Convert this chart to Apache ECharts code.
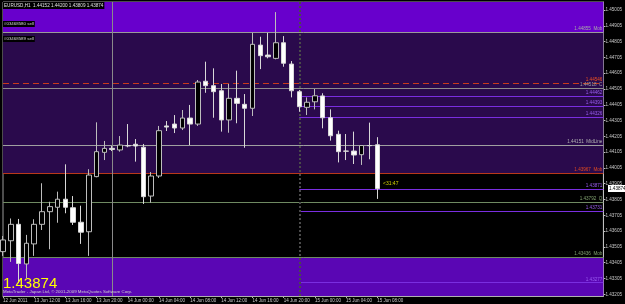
<!DOCTYPE html>
<html>
<head>
<meta charset="utf-8">
<script src="https://cdn.jsdelivr.net/npm/echarts@6/dist/echarts.min.js"></script>
<style>
html, body { margin: 0; padding: 0; background: #000; }
#chart { width: 625px; height: 304px; }
</style>
</head>
<body>
<div id="chart"></div>
<script>
// EURUSD,H1 bars, one per hour: [open, close, low, high]
var bars = [
    [1.43475, 1.43549, 1.43448, 1.43574],
    [1.43544, 1.43648, 1.43410, 1.43685],
    [1.43648, 1.43400, 1.43277, 1.43682],
    [1.43397, 1.43528, 1.43308, 1.43581],
    [1.43524, 1.43648, 1.43448, 1.43680],
    [1.43648, 1.43728, 1.43612, 1.43908],
    [1.43728, 1.43760, 1.43490, 1.43791],
    [1.43756, 1.43807, 1.43658, 1.43855],
    [1.43807, 1.43756, 1.43718, 1.44028],
    [1.43753, 1.43661, 1.43644, 1.43827],
    [1.43661, 1.43598, 1.43524, 1.43766],
    [1.43601, 1.43960, 1.43448, 1.43997],
    [1.43950, 1.44108, 1.43946, 1.44294],
    [1.44104, 1.44129, 1.44055, 1.44176],
    [1.44129, 1.44122, 1.44112, 1.44144],
    [1.44119, 1.44150, 1.44108, 1.44207],
    [1.44146, 1.44145, 1.44136, 1.44283],
    [1.44155, 1.44144, 1.44045, 1.44188],
    [1.44136, 1.43823, 1.43777, 1.44157],
    [1.43827, 1.43954, 1.43785, 1.43979],
    [1.43954, 1.44241, 1.43941, 1.44271],
    [1.44271, 1.44264, 1.44239, 1.44302],
    [1.44283, 1.44258, 1.44226, 1.44340],
    [1.44258, 1.44321, 1.44245, 1.44372],
    [1.44321, 1.44283, 1.44150, 1.44404],
    [1.44283, 1.44549, 1.44271, 1.44562],
    [1.44554, 1.44526, 1.44481, 1.44678],
    [1.44526, 1.44488, 1.44323, 1.44636],
    [1.44494, 1.44309, 1.44235, 1.44537],
    [1.44309, 1.44446, 1.44228, 1.44537],
    [1.44446, 1.44414, 1.44288, 1.44621],
    [1.44408, 1.44383, 1.44133, 1.44473],
    [1.44383, 1.44788, 1.44334, 1.44861],
    [1.44783, 1.44716, 1.44631, 1.44836],
    [1.44720, 1.44709, 1.44699, 1.44861],
    [1.44699, 1.44798, 1.44693, 1.44992],
    [1.44798, 1.44668, 1.44646, 1.44840],
    [1.44663, 1.44494, 1.44452, 1.44682],
    [1.44488, 1.44393, 1.44361, 1.44499],
    [1.44389, 1.44421, 1.44340, 1.44452],
    [1.44424, 1.44462, 1.44376, 1.44505],
    [1.44461, 1.44323, 1.44256, 1.44478],
    [1.44323, 1.44209, 1.44178, 1.44376],
    [1.44218, 1.44108, 1.44040, 1.44241],
    [1.44112, 1.44111, 1.44055, 1.44220],
    [1.44112, 1.44087, 1.44030, 1.44235],
    [1.44089, 1.44147, 1.44024, 1.44150],
    [1.44147, 1.44146, 1.44060, 1.44292],
    [1.44152, 1.43874, 1.43809, 1.44200]
];
var slotCount = 78;   // bars plus the empty space on the right
var timeLabels = ["12 Jun 2011", "13 Jun 12:00", "13 Jun 16:00", "13 Jun 20:00", "14 Jun 00:00",
    "14 Jun 04:00", "14 Jun 08:00", "14 Jun 12:00", "14 Jun 16:00", "14 Jun 20:00",
    "15 Jun 00:00", "15 Jun 04:00", "15 Jun 08:00"];
var priceTicks = [1.43205, 1.43305, 1.43405, 1.43505, 1.43605, 1.43705, 1.43805, 1.43905, 1.44005,
    1.44105, 1.44205, 1.44305, 1.44405, 1.44505, 1.44605, 1.44705, 1.44805, 1.44905, 1.45005];
var priceMin = 1.43194, priceMax = 1.45056;

// zones (rectangles)
var upperZone = [1.44864, 1.45056];
var middleZone = [1.43971, 1.44864];
var lowerZone = [1.43194, 1.43439];

// horizontal lines over the whole chart
var fullLevels = [1.44864, 1.44541, 1.44509, 1.44146, 1.43971, 1.43787, 1.43439];
var fullTexts = ["1.44855  Mob", "1.44546", "1.44518  C", "1.44151  MidLine", "1.43967  Mob", "1.43792  Q", "1.43436  Mob"];
// lines drawn from the start of 15 Jun
var shortLevels = [1.44462, 1.44393, 1.44326, 1.43872, 1.43732, 1.43278];
var shortTexts = ["1.44462", "1.44393", "1.44326", "1.43871", "1.43731", "1.43277"];
var vLineSlots = [14, 38];

var lastPrice = "1.43874";
var header = "EURUSD,H1  1.44152 1.44200 1.43809 1.43874";

var FONT = "Liberation Sans";
var cats = [];
for (var i = 0; i < slotCount; i++) cats.push(String(i));
var lastSlot = slotCount - 1;
var startSlot = 38;

var fullColors = ['#9a9a9a', '#c83a1c', '#8c8c8c', '#a0a0a0', '#b8381a', '#6f8a62', '#6f8a62'];
var fullLabelColors = ['#a8a8a8', '#f05020', '#a0a0a0', '#b0b0b0', '#e04a20', '#80a070', '#80a070'];
var purple = '#7a2ee0';

var hLines = [];
fullLevels.forEach(function (p, i) {
    hLines.push([
        {coord: [0, p], lineStyle: {color: fullColors[i], width: 1, type: i === 1 ? [6, 4] : 'solid'},
            label: {show: true, formatter: fullTexts[i], color: fullLabelColors[i]}},
        {coord: [lastSlot, p]}
    ]);
});
shortLevels.forEach(function (p, i) {
    hLines.push([
        {coord: [startSlot, p], lineStyle: {color: purple, width: 1, type: 'solid'},
            label: {show: true, formatter: shortTexts[i], color: '#9a5cf0'}},
        {coord: [lastSlot, p]}
    ]);
});
vLineSlots.forEach(function (s, i) {
    hLines.push([
        {coord: [s, priceMin], label: {show: false},
            lineStyle: i === 0 ? {color: '#8a8a8a', width: 1, type: 'solid'} : {color: '#4a4a4a', width: 2, type: [2, 2]}},
        {coord: [s, priceMax]}
    ]);
});

function zone(z, color) {
    return [{coord: [0, z[0]], itemStyle: {color: color}}, {coord: [lastSlot, z[1]]}];
}

var chart = echarts.init(document.getElementById('chart'), null, {renderer: 'canvas'});
chart.setOption({
    backgroundColor: '#000000',
    animation: false,
    textStyle: {fontFamily: FONT},
    grid: {left: 2, right: 18, top: 2, bottom: 8, show: true, borderColor: '#9a9a9a', borderWidth: 1},
    xAxis: {
        type: 'category',
        data: cats,
        boundaryGap: false,
        axisLine: {lineStyle: {color: '#b0b0b0'}},
        axisTick: {
            length: 2,
            lineStyle: {color: '#b0b0b0'},
            interval: function (idx) { return idx % 4 === 0 && idx / 4 < timeLabels.length; }
        },
        axisLabel: {
            interval: function (idx) { return idx % 4 === 0 && idx / 4 < timeLabels.length; },
            formatter: function (v, idx) { return timeLabels[idx / 4] || ''; },
            align: 'left',
            margin: 2,
            fontSize: 4.5,
            fontFamily: FONT,
            color: '#c8c8c8'
        },
        splitLine: {show: false}
    },
    yAxis: {
        type: 'value',
        position: 'right',
        min: priceMin,
        max: priceMax,
        axisLine: {show: true, lineStyle: {color: '#c0c0c0'}},
        axisTick: {show: true, length: 2, lineStyle: {color: '#c0c0c0'}, customValues: priceTicks},
        axisLabel: {
            customValues: priceTicks,
            formatter: function (v) { return v.toFixed(5); },
            margin: 2,
            fontSize: 4.6,
            fontFamily: FONT,
            color: '#c8c8c8'
        },
        splitLine: {show: false}
    },
    series: [
        {
            type: 'line',
            data: [],
            z: 0,
            silent: true,
            markArea: {
                silent: true,
                data: [
                    zone(upperZone, '#6800cc'),
                    zone(middleZone, '#2a0a4c'),
                    zone(lowerZone, '#5a06b4')
                ]
            }
        },
        {
            type: 'line',
            data: [],
            z: 1,
            silent: true,
            markLine: {
                silent: true,
                symbol: ['none', 'none'],
                label: {position: 'insideEndTop', fontSize: 4.6, fontFamily: FONT, distance: [1, 1]},
                data: hLines
            }
        },
        {
            type: 'candlestick',
            z: 5,
            barWidth: 5,
            data: bars,
            itemStyle: {
                color: '#000000',
                color0: '#ffffff',
                borderColor: '#bdbdbd',
                borderColor0: '#d8d8d8',
                borderWidth: 1
            }
        }
    ],
    graphic: [
        {type: 'text', left: 3, top: 2, z: 100,
            style: {text: header, fill: '#e0e0e0', font: '4.6px ' + FONT, backgroundColor: '#000', padding: [1, 1]}},
        {type: 'text', left: 3, top: 21, z: 100,
            style: {text: '#03468580 sell', fill: '#d8d8d8', font: '4.4px ' + FONT, backgroundColor: '#000', padding: [1, 1]}},
        {type: 'text', left: 3, top: 36, z: 100,
            style: {text: '#03468589 sell', fill: '#d8d8d8', font: '4.4px ' + FONT, backgroundColor: '#000', padding: [1, 1]}},
        {type: 'text', left: 383, top: 181, z: 100,
            style: {text: '<31:47', fill: '#d4d400', font: '5px ' + FONT}},
        {type: 'text', left: 3, top: 276, z: 100,
            style: {text: lastPrice, fill: '#ffff00', font: '15px ' + FONT}},
        {type: 'text', left: 3, top: 290, z: 100,
            style: {text: 'MetaTrader - Japan Ltd, \u00a9 2001-2009 MetaQuotes Software Corp.', fill: '#d0d0d0', font: '4.4px ' + FONT}},
        {type: 'group', left: 608, top: 185, z: 100, children: [
            {type: 'rect', shape: {x: 0, y: 0, width: 17, height: 7}, style: {fill: '#ffffff'}},
            {type: 'text', x: 1, y: 1, style: {text: lastPrice, fill: '#000', font: '4.6px ' + FONT}}
        ]}
    ]
});
</script>
</body>
</html>
